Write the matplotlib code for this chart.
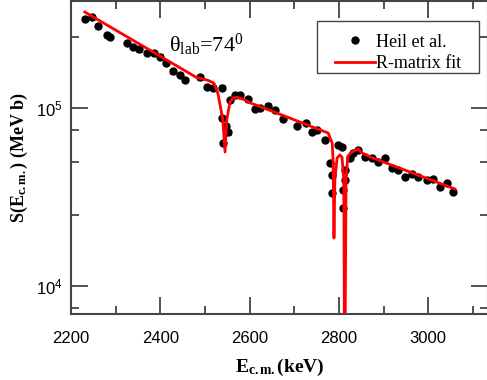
import numpy as np
import matplotlib
matplotlib.use("Agg")
import matplotlib.pyplot as plt
from matplotlib.patches import Rectangle
from matplotlib.ticker import FixedLocator, NullFormatter

plt.rcParams["mathtext.fontset"] = "custom"
plt.rcParams["mathtext.rm"] = "Liberation Serif"
plt.rcParams["mathtext.bf"] = "Liberation Serif:bold"
plt.rcParams["mathtext.it"] = "Liberation Serif:italic"

# Heil et al. data (E_cm in keV, S in MeV b)
E_data = [2231, 2247, 2260, 2281, 2287, 2325, 2339, 2352, 2370, 2386,
          2399, 2413, 2428, 2444, 2455, 2489, 2505, 2518, 2538,
          2538, 2552, 2540, 2547,
          2556, 2567, 2579, 2596, 2612, 2623, 2641, 2657, 2675, 2706,
          2726, 2740, 2751, 2769,
          2780, 2785, 2785, 2798, 2807, 2814, 2814, 2809, 2809,
          2825, 2832, 2843, 2859, 2874, 2888, 2903, 2919, 2932, 2948,
          2964, 2977, 2997, 3011, 3026, 3042, 3056]
S_data = [3.16e5, 3.24e5, 2.89e5, 2.57e5, 2.51e5, 2.32e5, 2.20e5, 2.14e5, 2.04e5, 2.04e5,
          1.94e5, 1.79e5, 1.61e5, 1.53e5, 1.44e5, 1.49e5, 1.31e5, 1.30e5, 1.30e5,
          8.8e4, 7.3e4, 6.36e4, 7.9e4,
          1.11e5, 1.18e5, 1.18e5, 1.12e5, 9.87e4, 1.0e5, 1.03e5, 9.75e4, 8.67e4, 7.92e4,
          8.24e4, 7.33e4, 7.52e4, 6.61e4,
          4.91e4, 4.21e4, 3.33e4, 6.19e4, 6.04e4, 4.49e4, 3.94e4, 3.46e4, 2.74e4,
          5.24e4, 5.59e4, 5.81e4, 5.31e4, 5.24e4, 4.98e4, 5.24e4, 4.6e4, 4.49e4, 4.1e4,
          4.26e4, 4.1e4, 3.94e4, 3.99e4, 3.6e4, 3.79e4, 3.37e4]
err_frac = 0.03

# R-matrix fit
E_fit = [2231, 2480, 2507, 2520, 2529, 2536, 2540, 2545, 2549, 2556, 2563, 2572,
         2590, 2601, 2661, 2690, 2776, 2785, 2787, 2789, 2791, 2796, 2802, 2807,
         2811, 2813, 2816, 2820, 2829, 2843, 2852, 2870, 3060]
S_fit = [3.46e5, 1.49e5, 1.43e5, 1.38e5, 1.21e5, 9.75e4, 8.6e4, 5.66e4, 8.6e4, 1.08e5, 1.14e5, 1.15e5,
         1.11e5, 1.07e5, 9.38e4, 8.78e4, 7.24e4, 6.36e4, 5.1e4, 1.86e4, 3.94e4, 5.24e4, 5.45e4, 5.3e4,
         3.94e4, 2.0e3, 3.94e4, 5.37e4, 5.66e4, 5.89e4, 5.59e4, 5.31e4, 3.51e4]

x_ticks = [2200, 2400, 2600, 2800, 3000]

fig = plt.figure(figsize=(4.87, 3.80), dpi=100)
ax = fig.add_axes([71 / 487, 66 / 380, 417 / 487, 313 / 380])

E_data = np.array(E_data)
S_data = np.array(S_data)
ax.errorbar(E_data, S_data, yerr=S_data * err_frac, fmt="none", ecolor="black",
            elinewidth=0.8, capsize=2, capthick=0.8, zorder=2)
pts, = ax.plot(E_data, S_data, "o", color="black", ms=5, label="Heil et al.", zorder=2)
fit, = ax.plot(E_fit, S_fit, color="red", lw=2, label="R-matrix fit", zorder=3)

ax.set_yscale("log")
ax.set_xlim(2200, 3134)
ax.set_ylim(6970, 3.99e5)

ax.set_xticks(x_ticks)
ax.set_xticklabels([str(t) for t in x_ticks], fontfamily="Liberation Sans", fontsize=12)
ax.xaxis.set_minor_locator(FixedLocator([2300, 2500, 2700, 2900, 3100]))
ax.yaxis.set_major_locator(FixedLocator([1e4, 1e5]))
ax.set_yticklabels([r"$\mathregular{10^4}$", r"$\mathregular{10^5}$"],
                   fontfamily="Liberation Sans", fontsize=12)
ax.yaxis.set_minor_locator(FixedLocator([7.5e3, 2.5e4, 5e4, 7.5e4, 2.5e5]))
ax.yaxis.set_minor_formatter(NullFormatter())

ax.tick_params(which="both", direction="in", top=True, right=True, width=1.2,
               color="#333333")
ax.tick_params(axis="x", which="both", pad=12)
ax.tick_params(axis="y", which="both", pad=6)
ax.tick_params(which="major", length=12)
ax.tick_params(which="minor", length=6)
for sp in ax.spines.values():
    sp.set_color("#444444")
    sp.set_linewidth(1.5)

ax.set_xlabel(r"$\mathbf{E_{c.m.}}$(keV)", fontfamily="Liberation Serif",
              fontweight="bold", fontsize=14, labelpad=8)
ax.set_ylabel(r"S($\mathbf{E_{c.m.}}$) (MeV b)", fontfamily="Liberation Serif",
              fontweight="bold", fontsize=13, labelpad=4)

ax.text(2420, 2.06e5, r"$\mathrm{\theta_{lab}}$=74$^{\mathrm{0}}$",
        fontfamily="Liberation Serif", fontsize=16)

# legend box drawn separately (wider side padding than matplotlib's frame)
ax.add_patch(Rectangle((0.590, 0.770), 0.388, 0.166, transform=ax.transAxes,
                       facecolor="white", edgecolor="#444444", lw=1.0, zorder=4))
leg = ax.legend(handles=[pts, fit], loc="upper left", bbox_to_anchor=(0.633, 0.896),
                borderaxespad=0, borderpad=0, frameon=False,
                prop={"family": "Liberation Serif", "size": 13},
                handlelength=2.2, labelspacing=0.25, handletextpad=0.1)
leg.set_zorder(5)

fig.savefig("out.png", dpi=100)
